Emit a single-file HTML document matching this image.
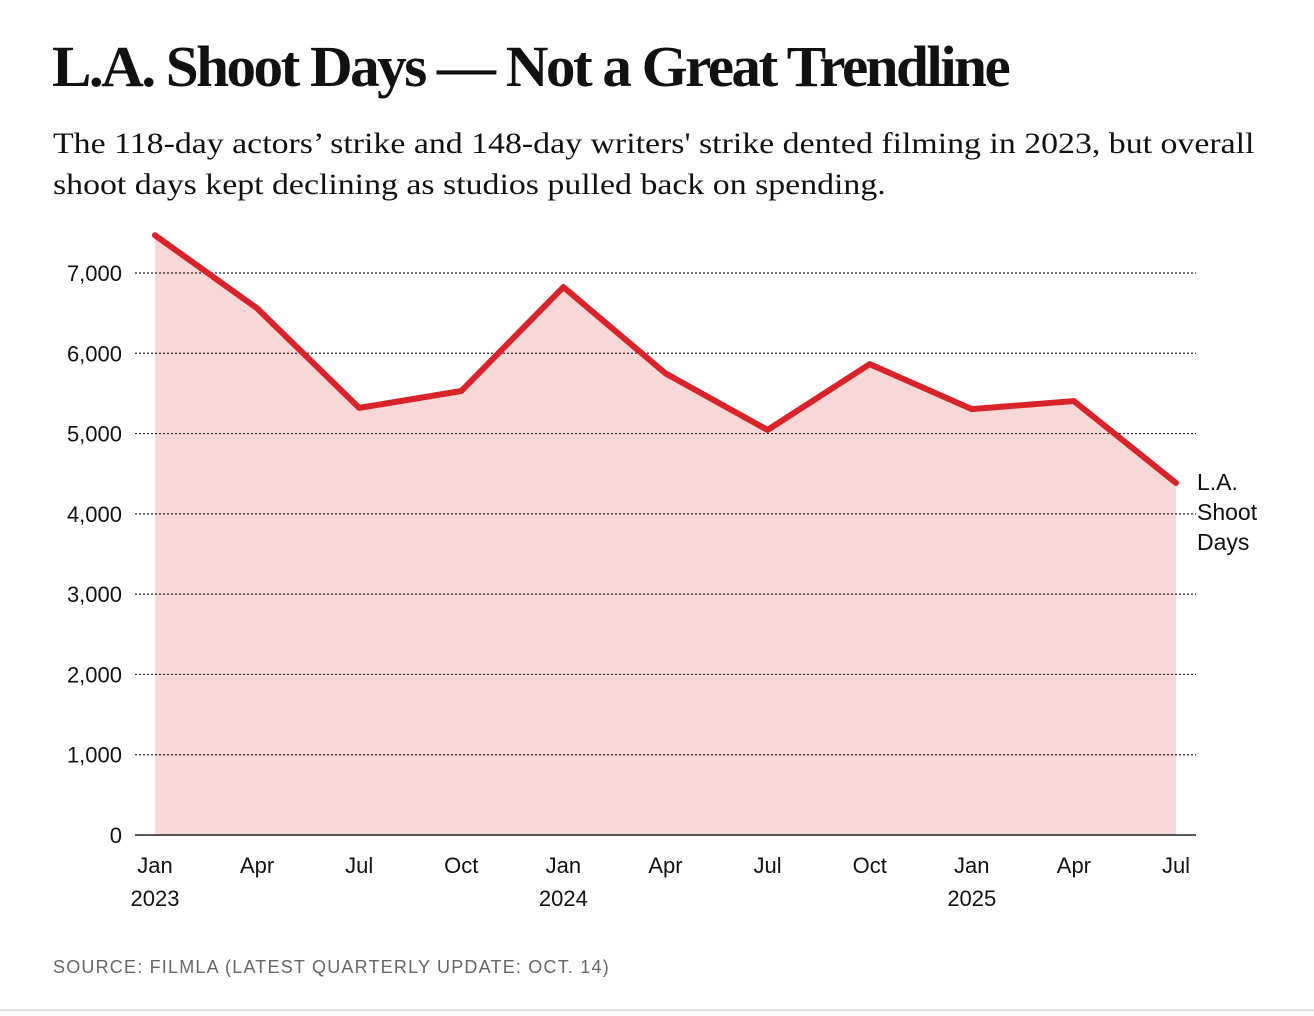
<!DOCTYPE html>
<html><head><meta charset="utf-8"><style>
body{margin:0;background:#fff;width:1314px;height:1016px;overflow:hidden;position:relative;font-family:"Liberation Sans",sans-serif}
#title{position:absolute;left:52px;top:38px;font-family:"Liberation Serif",serif;font-weight:bold;font-size:58px;letter-spacing:-2.5px;white-space:nowrap;transform:scaleX(1.02);transform-origin:left top;color:#111;line-height:1}
#sub{position:absolute;left:53px;top:123px;font-family:"Liberation Serif",serif;font-size:30px;line-height:41px;color:#111;white-space:nowrap;transform:scaleX(1.128);transform-origin:left top}
#src{position:absolute;left:53px;top:957px;font-size:18px;color:#666;letter-spacing:1.2px}
#rule{position:absolute;left:0;top:1009px;width:1314px;height:2px;background:#ddd}
svg{position:absolute;left:0;top:0}
</style></head><body>
<div id="title">L.A. Shoot Days — Not a Great Trendline</div>
<div id="sub">The 118-day actors’ strike and 148-day writers' strike dented filming in 2023, but overall<br>shoot days kept declining as studios pulled back on spending.</div>
<svg id="chart" width="1314" height="1016"></svg>
<div id="src">SOURCE: FILMLA (LATEST QUARTERLY UPDATE: OCT. 14)</div>
<div id="rule"></div>
<script>
const months=["Jan","Apr","Jul","Oct","Jan","Apr","Jul","Oct","Jan","Apr","Jul"];
const years=["2023","","","","2024","","","","2025","",""];
const shootDays=[7470,6560,5320,5530,6825,5750,5045,5865,5305,5405,4385];
const yTicks=[0,1000,2000,3000,4000,5000,6000,7000];
const NS="http://www.w3.org/2000/svg";
const svg=document.getElementById('chart');
const x=i=>155+i*(1176-155)/(months.length-1);
const y=v=>835-v*(835-273)/7000;
function mk(t,a){const e=document.createElementNS(NS,t);for(const k in a)e.setAttribute(k,a[k]);svg.appendChild(e);return e;}
let area="M"+x(0)+","+y(0);
shootDays.forEach((v,i)=>area+=" L"+x(i)+","+y(v));
area+=" L"+x(shootDays.length-1)+","+y(0)+" Z";
const a=mk('path',{d:area,fill:'#f8d7d7'});


yTicks.forEach(t=>{
 if(t>0){const g=mk('line',{x1:135,x2:1196,y1:y(t),y2:y(t),stroke:'#222','stroke-width':1.2,'stroke-dasharray':'2,2'});
 
 }
 const l=mk('text',{x:122,y:y(t)+8,'text-anchor':'end','font-size':22,fill:'#111'});
 l.textContent=t.toLocaleString('en-US');
 
 
});
const ax=mk('line',{x1:135,x2:1196,y1:y(0),y2:y(0),stroke:'#222','stroke-width':1.5});


months.forEach((m,i)=>{
 const t=mk('text',{x:x(i),y:873,'text-anchor':'middle','font-size':22,fill:'#111'});
 t.textContent=m;
 
 
 if(years[i]){const yt=mk('text',{x:x(i),y:906,'text-anchor':'middle','font-size':22,fill:'#111'});
 yt.textContent=years[i];
 
 }
});
const ln=mk('polyline',{points:shootDays.map((v,i)=>x(i)+","+y(v)).join(" "),fill:'none',stroke:'#d9232b','stroke-width':6,'stroke-linejoin':'round','stroke-linecap':'round'});


["L.A.","Shoot","Days"].forEach((s,i)=>{
 const t=mk('text',{x:1197,y:490+i*30,'font-size':23,fill:'#111'});
 t.textContent=s;
 
 
});
</script>
</body></html>
